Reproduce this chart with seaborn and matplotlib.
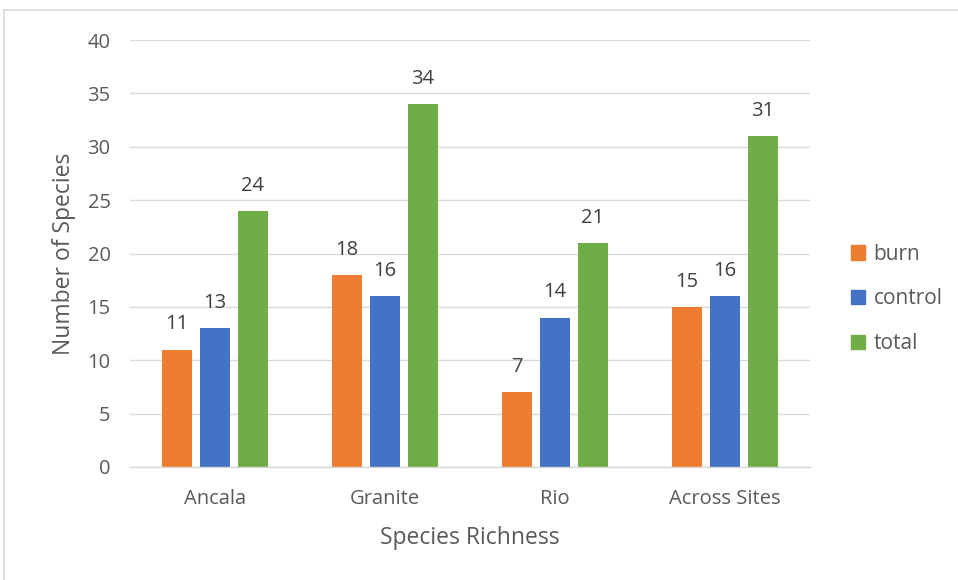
import matplotlib
matplotlib.use("Agg")
import matplotlib.pyplot as plt
import matplotlib.patches as mpatches
import seaborn as sns
import pandas as pd

sites = ["Ancala", "Granite", "Rio", "Across Sites"]
treatments = ["burn", "control", "total"]
burn = [11, 18, 7, 15]
control = [13, 16, 14, 16]
total = [24, 34, 21, 31]
yticks = [0, 5, 10, 15, 20, 25, 30, 35, 40]

colors = ["#ED7D31", "#4472C4", "#70AD47"]
text_color = "#595959"
grid_color = "#D9D9D9"

df = pd.DataFrame({
    "site": sites * 3,
    "treatment": [t for t in treatments for _ in sites],
    "value": burn + control + total,
})

sns.set_theme(style="white")
plt.rcParams["font.family"] = ["Open Sans", "DejaVu Sans"]

fig = plt.figure(figsize=(9.58, 5.8), dpi=100)
ax = fig.add_axes([130 / 958, 1 - 467 / 580, 680 / 958, 427 / 580])

sns.barplot(data=df, x="site", y="value", hue="treatment", order=sites,
            hue_order=treatments, palette=colors, width=0.67, gap=0.21,
            saturation=1, linewidth=0, ax=ax, legend=False)

for container in ax.containers:
    ax.bar_label(container, fmt="%d", padding=11, fontsize=14.5, color="#404040")

ax.set_ylim(0, 40)
ax.set_xlim(-0.5, 3.5)
ax.set_yticks(yticks)
ax.set_yticklabels([str(v) for v in yticks])
ax.yaxis.grid(True, color=grid_color, linewidth=1)
ax.set_axisbelow(True)
for side in ["top", "right", "left"]:
    ax.spines[side].set_visible(False)
ax.spines["bottom"].set_color(grid_color)
ax.spines["bottom"].set_linewidth(1)
ax.tick_params(axis="both", length=0, labelsize=14.5, colors=text_color)
ax.tick_params(axis="x", pad=16)
ax.tick_params(axis="y", pad=14)

ax.set_xlabel("Species Richness", fontsize=16.5, color=text_color, labelpad=12)
ax.set_ylabel("Number of Species", fontsize=16.5, color=text_color, labelpad=8)

handles = [mpatches.Patch(color=c, label=t) for c, t in zip(colors, treatments)]
leg = fig.legend(handles=handles, loc="center left",
                 bbox_to_anchor=(832 / 958, 1 - 299 / 580), frameon=False,
                 fontsize=15, handlelength=0.7, handleheight=0.7,
                 handletextpad=0.4, labelspacing=1.15, labelcolor=text_color)

# outer chart frame
fig.patches.append(mpatches.Rectangle((4 / 958, -0.1), 1.1, 1 - 10 / 580 + 0.1,
                                      transform=fig.transFigure, fill=False,
                                      edgecolor=grid_color, linewidth=1.2))

fig.savefig("out.png", dpi=100)
